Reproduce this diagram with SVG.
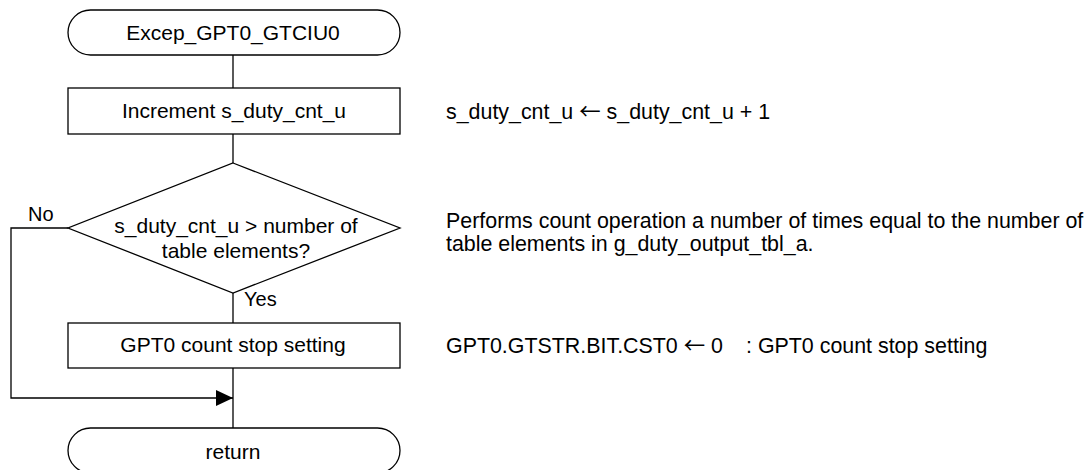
<svg xmlns="http://www.w3.org/2000/svg" width="1091" height="470" viewBox="0 0 1091 470">
<defs>
<style>
.s{fill:#fff;stroke:#000;stroke-width:1.3}
.c{fill:none;stroke:#000;stroke-width:1.3}
.t{font-family:"Liberation Sans",Arial,sans-serif;font-size:21px;fill:#000;text-anchor:middle}
.n{font-family:"Liberation Sans",Arial,sans-serif;font-size:21.4px;fill:#000}
.a{font-family:"Noto Sans CJK JP","DejaVu Sans",sans-serif}
.l{font-family:"Liberation Sans",Arial,sans-serif;font-size:20px;fill:#000}
</style>
<marker id="ah" markerWidth="17" markerHeight="16" refX="17" refY="8" orient="auto" markerUnits="userSpaceOnUse">
<path d="M0,0 L17,8 L0,16 Z" fill="#000"/>
</marker>
</defs>
<rect width="1091" height="470" fill="#fff"/>
<g id="connectors">
<line class="c" x1="233" y1="55" x2="233" y2="88"/>
<line class="c" x1="233" y1="134" x2="233" y2="163"/>
<line class="c" x1="233" y1="293" x2="233" y2="323"/>
<line class="c" x1="233" y1="368" x2="233" y2="428"/>
<path class="c" d="M68,228 H11 V398 H233" marker-end="url(#ah)"/>
<text class="l" x="28" y="221">No</text>
<text class="l" x="244" y="306">Yes</text>
</g>
<g id="start">
<rect class="s" x="68" y="10" width="332" height="45" rx="22.5" ry="22.5"/>
<text class="t" x="233" y="40">Excep_GPT0_GTCIU0</text>
</g>
<g id="increment">
<rect class="s" x="68" y="88" width="332" height="46"/>
<text class="t" x="234" y="118">Increment s_duty_cnt_u</text>
</g>
<g id="decision">
<polygon class="s" points="233,163 400,228 233,293 68,228"/>
<text class="t" x="236" y="233">s_duty_cnt_u &gt; number of</text>
<text class="t" x="236" y="258">table elements?</text>
</g>
<g id="stop">
<rect class="s" x="68" y="323" width="332" height="45"/>
<text class="t" x="233" y="352">GPT0 count stop setting</text>
</g>
<g id="return">
<rect class="s" x="68" y="428" width="332" height="45" rx="22.5" ry="22.5"/>
<text class="t" x="233" y="459">return</text>
</g>
<g id="notes">
<text class="n" x="446" y="119">s_duty_cnt_u <tspan class="a">←</tspan> s_duty_cnt_u + 1</text>
<text class="n" x="446" y="228">Performs count operation a number of times equal to the number of</text>
<text class="n" x="446" y="251">table elements in g_duty_output_tbl_a.</text>
<text class="n" x="446" y="353">GPT0.GTSTR.BIT.CST0 <tspan class="a">←</tspan> 0<tspan x="746">: GPT0 count stop setting</tspan></text>
</g>
</svg>
